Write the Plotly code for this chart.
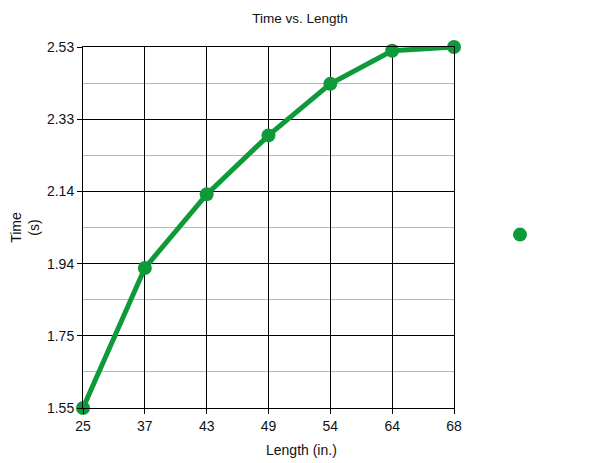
import plotly.graph_objects as go

# Data
lengths = ["25", "37", "43", "49", "54", "64", "68"]
times = [1.55, 1.93, 2.13, 2.29, 2.43, 2.52, 2.53]

y_tick_vals = [1.55, 1.746, 1.942, 2.138, 2.334, 2.53]
y_tick_text = ["1.55", "1.75", "1.94", "2.14", "2.33", "2.53"]
y_minor_vals = [1.648, 1.844, 2.04, 2.236, 2.432]

green = "#0f9a3a"
font = "Liberation Sans, Arial, sans-serif"

# page has an 8px body margin, so the figure is drawn a bit smaller
W, H = 592, 455
L, T, PW, PH = 75, 39, 371, 361

fig = go.Figure()

fig.add_trace(go.Scatter(
    x=lengths,
    y=times,
    mode="lines+markers",
    line=dict(color=green, width=5),
    marker=dict(color=green, size=14),
    showlegend=False,
    cliponaxis=False,
))

# legend entry is just a dot
fig.add_trace(go.Scatter(
    x=[None],
    y=[None],
    mode="markers",
    marker=dict(color=green, size=14),
    name=" ",
    showlegend=True,
))

fig.update_layout(
    width=W,
    height=H,
    margin=dict(l=L, r=W - L - PW, t=T, b=H - T - PH),
    paper_bgcolor="white",
    plot_bgcolor="white",
    font=dict(family=font, size=14, color="#111111"),
    title=dict(text="Time vs. Length", x=(292 - L) / PW, xref="paper",
               xanchor="center", y=1 - 10 / H, yanchor="middle",
               font=dict(size=13.5)),
    legend=dict(x=(500 - 83) / PW, xanchor="left", y=(408 - 235) / PH,
                yanchor="middle", bgcolor="rgba(0,0,0,0)"),
    annotations=[dict(text="Length (in.)", xref="paper", yref="paper",
                      x=(301 - 83) / PW, y=-(450 - 408) / PH,
                      xanchor="center", yanchor="middle", showarrow=False,
                      font=dict(size=14))],
)

fig.update_xaxes(
    type="category",
    range=[0, len(lengths) - 1],
    automargin=False,
    showgrid=True,
    gridcolor="black",
    gridwidth=1,
    showline=True,
    linecolor="black",
    mirror=True,
    ticks="outside",
    ticklen=5,
    tickcolor="black",
    tickfont=dict(size=14),
    zeroline=False,
)

fig.update_yaxes(
    range=[1.55, 2.53],
    tickvals=y_tick_vals,
    ticktext=y_tick_text,
    automargin=False,
    showgrid=True,
    gridcolor="black",
    gridwidth=1,
    showline=True,
    linecolor="black",
    mirror=True,
    ticks="outside",
    ticklen=5,
    tickcolor="black",
    tickfont=dict(size=14),
    zeroline=False,
    title=dict(text="Time<br>(s)", font=dict(size=14), standoff=8),
    minor=dict(tickvals=y_minor_vals, showgrid=True, gridcolor="#b8b8b8",
               gridwidth=1, ticks=""),
)

fig.write_html("out.html")
